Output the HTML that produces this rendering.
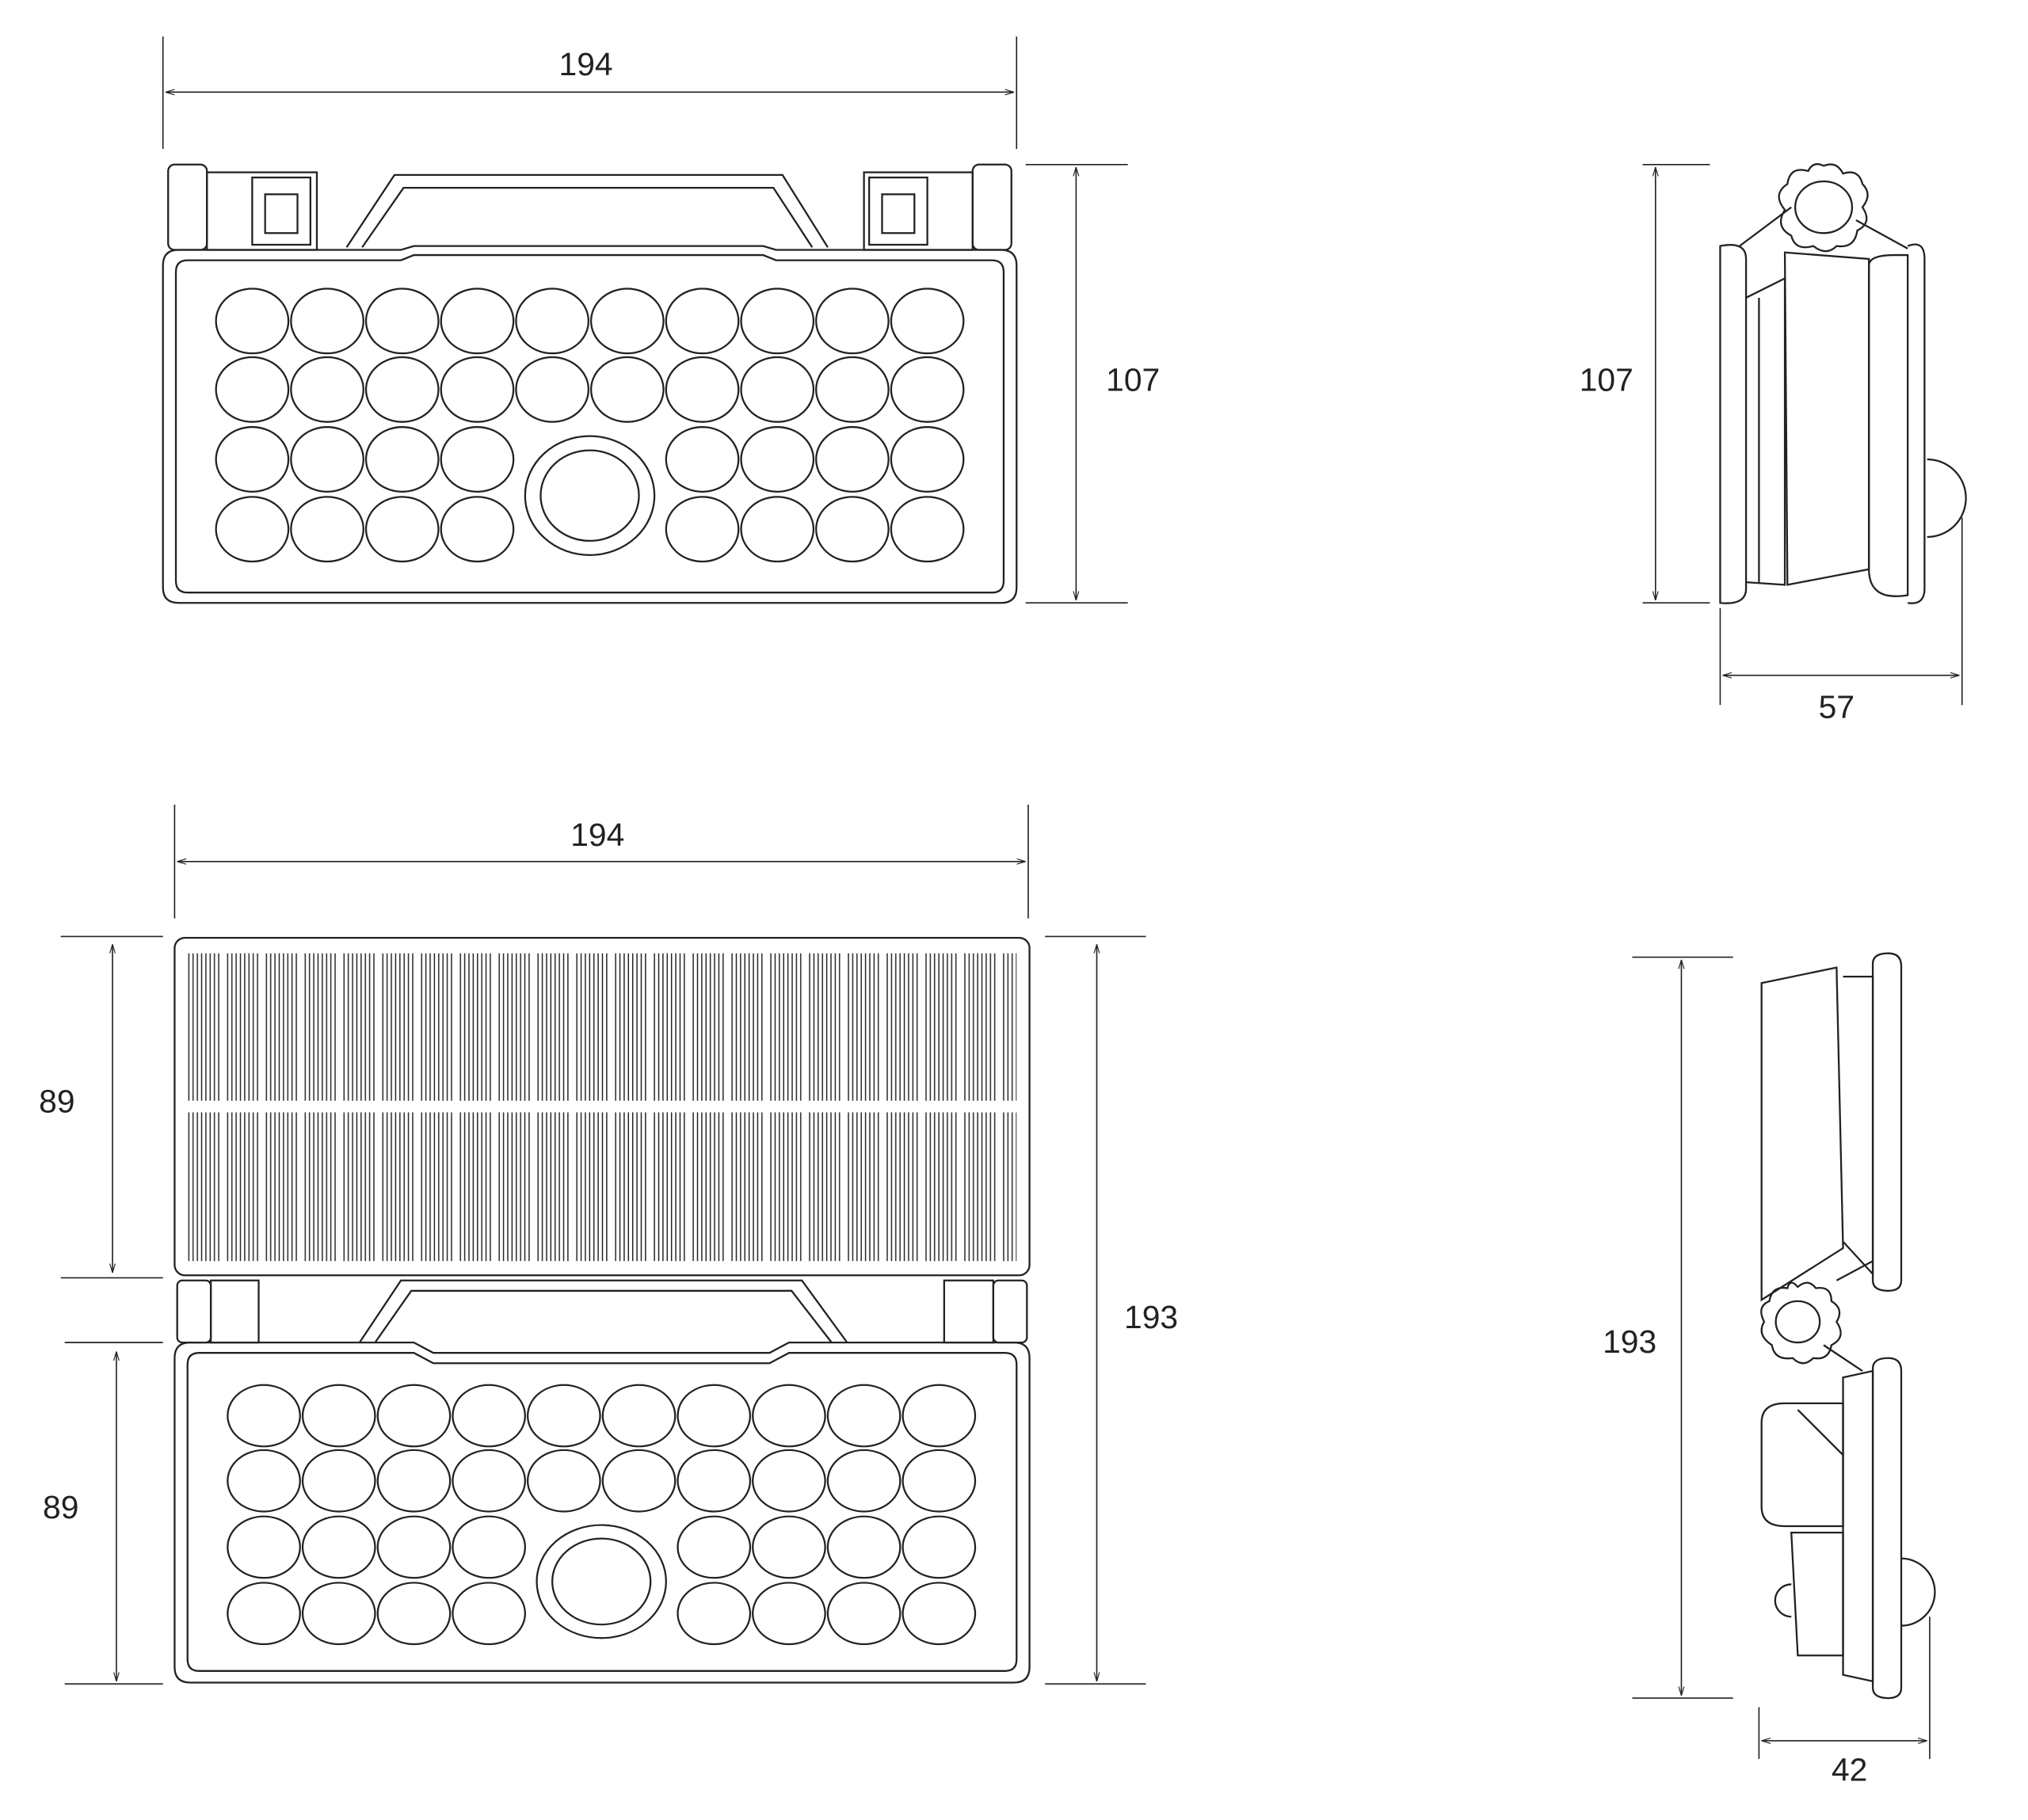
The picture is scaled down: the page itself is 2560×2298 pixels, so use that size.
<!DOCTYPE html>
<html><head><meta charset="utf-8"><style>
html,body{margin:0;padding:0;background:#fff;}
svg{display:block;}
text{font-family:"Liberation Sans",sans-serif;font-size:25px;fill:#222;text-anchor:middle;}
</style></head><body>
<svg width="2560" height="2298" viewBox="0 0 1568 1407" xmlns="http://www.w3.org/2000/svg">
<defs>
<marker id="a" viewBox="0 0 10 10" refX="10" refY="5" markerWidth="7" markerHeight="7" orient="auto-start-reverse"><path d="M0,2 L10,5 L0,8" fill="none" stroke="#222" stroke-width="1"/></marker>
<pattern id="st" width="30" height="10" patternUnits="userSpaceOnUse" x="145">
<g stroke="#222" stroke-width="0.9">
<line x1="1" y1="0" x2="1" y2="10"/><line x1="4.3" y1="0" x2="4.3" y2="10"/><line x1="7.6" y1="0" x2="7.6" y2="10"/><line x1="10.9" y1="0" x2="10.9" y2="10"/><line x1="14.2" y1="0" x2="14.2" y2="10"/><line x1="17.5" y1="0" x2="17.5" y2="10"/><line x1="20.8" y1="0" x2="20.8" y2="10"/><line x1="24.1" y1="0" x2="24.1" y2="10"/>
</g></pattern>
</defs>
<g fill="none" stroke="#222" stroke-width="1.4">
<!-- TOP FRONT -->
<line x1="126" y1="28" x2="126" y2="115" stroke-width="1"/><line x1="786" y1="28" x2="786" y2="115" stroke-width="1"/>
<line x1="128" y1="71" x2="784" y2="71" stroke-width="1" marker-start="url(#a)" marker-end="url(#a)"/>
<path d="M268,191 L305,135 L605,135 L640,191"/>
<path d="M280,191 L312,145 L598,145 L628,191"/>
<rect x="130" y="127" width="30" height="66" rx="5"/><rect x="160" y="133" width="85" height="60"/><rect x="195" y="137" width="45" height="52"/><rect x="205" y="150" width="25" height="30"/>
<rect x="752" y="127" width="30" height="66" rx="5"/><rect x="668" y="133" width="84" height="60"/><rect x="672" y="137" width="45" height="52"/><rect x="682" y="150" width="25" height="30"/>
<path d="M138,193 L310,193 L320,190 L590,190 L600,193 L774,193 Q786,193 786,205 L786,454 Q786,466 774,466 L138,466 Q126,466 126,454 L126,205 Q126,193 138,193 Z"/>
<path d="M145,201 L310,201 L320,197 L590,197 L600,201 L767,201 Q776,201 776,210 L776,449 Q776,458 767,458 L145,458 Q136,458 136,449 L136,210 Q136,201 145,201 Z"/>
<g id="c1">
<ellipse cx="195" cy="248" rx="28" ry="25"/><ellipse cx="253" cy="248" rx="28" ry="25"/><ellipse cx="311" cy="248" rx="28" ry="25"/><ellipse cx="369" cy="248" rx="28" ry="25"/><ellipse cx="427" cy="248" rx="28" ry="25"/><ellipse cx="485" cy="248" rx="28" ry="25"/><ellipse cx="543" cy="248" rx="28" ry="25"/><ellipse cx="601" cy="248" rx="28" ry="25"/><ellipse cx="659" cy="248" rx="28" ry="25"/><ellipse cx="717" cy="248" rx="28" ry="25"/>
<ellipse cx="195" cy="301" rx="28" ry="25"/><ellipse cx="253" cy="301" rx="28" ry="25"/><ellipse cx="311" cy="301" rx="28" ry="25"/><ellipse cx="369" cy="301" rx="28" ry="25"/><ellipse cx="427" cy="301" rx="28" ry="25"/><ellipse cx="485" cy="301" rx="28" ry="25"/><ellipse cx="543" cy="301" rx="28" ry="25"/><ellipse cx="601" cy="301" rx="28" ry="25"/><ellipse cx="659" cy="301" rx="28" ry="25"/><ellipse cx="717" cy="301" rx="28" ry="25"/>
<ellipse cx="195" cy="355" rx="28" ry="25"/><ellipse cx="253" cy="355" rx="28" ry="25"/><ellipse cx="311" cy="355" rx="28" ry="25"/><ellipse cx="369" cy="355" rx="28" ry="25"/><ellipse cx="543" cy="355" rx="28" ry="25"/><ellipse cx="601" cy="355" rx="28" ry="25"/><ellipse cx="659" cy="355" rx="28" ry="25"/><ellipse cx="717" cy="355" rx="28" ry="25"/>
<ellipse cx="195" cy="409" rx="28" ry="25"/><ellipse cx="253" cy="409" rx="28" ry="25"/><ellipse cx="311" cy="409" rx="28" ry="25"/><ellipse cx="369" cy="409" rx="28" ry="25"/><ellipse cx="543" cy="409" rx="28" ry="25"/><ellipse cx="601" cy="409" rx="28" ry="25"/><ellipse cx="659" cy="409" rx="28" ry="25"/><ellipse cx="717" cy="409" rx="28" ry="25"/>
<ellipse cx="456" cy="383" rx="50" ry="46"/><ellipse cx="456" cy="383" rx="38" ry="35"/>
</g>
<line x1="793" y1="127" x2="872" y2="127" stroke-width="1"/><line x1="793" y1="466" x2="872" y2="466" stroke-width="1"/>
<line x1="832" y1="129" x2="832" y2="464" stroke-width="1" marker-start="url(#a)" marker-end="url(#a)"/>

<!-- TOP SIDE -->
<line x1="1270" y1="127" x2="1322" y2="127" stroke-width="1"/><line x1="1270" y1="466" x2="1322" y2="466" stroke-width="1"/>
<line x1="1280" y1="129" x2="1280" y2="464" stroke-width="1" marker-start="url(#a)" marker-end="url(#a)"/>
<path d="M1330,190 Q1350,186 1350,200 L1350,455 Q1350,468 1330,466 Z"/>
<path d="M1350,230 L1380,215 L1380,452 L1350,450"/><line x1="1360" y1="230" x2="1360" y2="450"/>
<path d="M1380,195 L1445,200 L1445,440 L1382,452 Z"/>
<path d="M1445,205 Q1445,197 1465,197 L1475,197 L1475,460 Q1445,465 1445,440 Z"/>
<path d="M1475,190 Q1488,185 1488,200 L1488,455 Q1488,468 1475,466"/>
<path d="M1490,355 A30,30 0 0 1 1490,415"/>
<line x1="1345" y1="190" x2="1385" y2="160"/><line x1="1435" y1="170" x2="1475" y2="192"/>
<path d="M1410,128 Q1420,124 1425,134 Q1437,130 1440,142 Q1448,150 1440,160 Q1448,172 1436,178 Q1434,192 1420,190 Q1412,198 1402,190 Q1388,194 1385,182 Q1372,175 1380,162 Q1370,150 1382,142 Q1384,128 1398,132 Q1402,124 1410,128 Z"/>
<ellipse cx="1410" cy="160" rx="22" ry="20"/>
<line x1="1330" y1="470" x2="1330" y2="545" stroke-width="1"/><line x1="1517" y1="400" x2="1517" y2="545" stroke-width="1"/>
<line x1="1332" y1="522" x2="1515" y2="522" stroke-width="1" marker-start="url(#a)" marker-end="url(#a)"/>

<!-- BOTTOM FRONT -->
<line x1="135" y1="622" x2="135" y2="710" stroke-width="1"/><line x1="795" y1="622" x2="795" y2="710" stroke-width="1"/>
<line x1="137" y1="666" x2="793" y2="666" stroke-width="1" marker-start="url(#a)" marker-end="url(#a)"/>
<rect x="135" y="725" width="661" height="261" rx="8"/>
<rect x="145" y="737" width="641" height="114" fill="url(#st)" stroke="none"/>
<rect x="145" y="860" width="641" height="115" fill="url(#st)" stroke="none"/>
<rect x="137" y="990" width="26" height="48" rx="4"/><rect x="163" y="990" width="37" height="48"/>
<rect x="768" y="990" width="26" height="48" rx="4"/><rect x="730" y="990" width="38" height="48"/>
<path d="M278,1038 L310,990 L620,990 L655,1038"/><path d="M290,1038 L318,998 L612,998 L643,1038"/>
<path d="M147,1038 L320,1038 L335,1046 L595,1046 L610,1038 L784,1038 Q796,1038 796,1050 L796,1289 Q796,1301 784,1301 L147,1301 Q135,1301 135,1289 L135,1050 Q135,1038 147,1038 Z"/>
<path d="M154,1046 L320,1046 L335,1054 L595,1054 L610,1046 L777,1046 Q786,1046 786,1055 L786,1283 Q786,1292 777,1292 L154,1292 Q145,1292 145,1283 L145,1055 Q145,1046 154,1046 Z"/>
<use href="#c1" transform="translate(9,859) scale(1,0.95)"/>
<line x1="47" y1="724" x2="126" y2="724" stroke-width="1"/><line x1="47" y1="988" x2="126" y2="988" stroke-width="1"/>
<line x1="87" y1="730" x2="87" y2="984" stroke-width="1" marker-start="url(#a)" marker-end="url(#a)"/>
<line x1="50" y1="1038" x2="126" y2="1038" stroke-width="1"/><line x1="50" y1="1302" x2="126" y2="1302" stroke-width="1"/>
<line x1="90" y1="1045" x2="90" y2="1300" stroke-width="1" marker-start="url(#a)" marker-end="url(#a)"/>
<line x1="808" y1="724" x2="886" y2="724" stroke-width="1"/><line x1="808" y1="1302" x2="886" y2="1302" stroke-width="1"/>
<line x1="848" y1="730" x2="848" y2="1300" stroke-width="1" marker-start="url(#a)" marker-end="url(#a)"/>

<!-- BOTTOM SIDE -->
<line x1="1262" y1="740" x2="1340" y2="740" stroke-width="1"/><line x1="1262" y1="1313" x2="1340" y2="1313" stroke-width="1"/>
<line x1="1300" y1="742" x2="1300" y2="1311" stroke-width="1" marker-start="url(#a)" marker-end="url(#a)"/>
<path d="M1362,760 L1420,748 L1425,965 L1362,1005 Z"/>
<path d="M1425,755 L1448,755 L1448,985 L1425,960"/>
<path d="M1448,745 Q1448,737 1460,737 Q1470,737 1470,747 L1470,990 Q1470,998 1460,998 Q1448,998 1448,990 Z"/>
<path d="M1390,995 Q1398,988 1404,996 Q1416,994 1416,1006 Q1426,1012 1420,1022 Q1428,1034 1416,1040 Q1414,1052 1402,1050 Q1394,1058 1386,1050 Q1372,1052 1370,1040 Q1358,1032 1364,1022 Q1358,1010 1368,1006 Q1370,994 1382,996 Q1384,988 1390,995 Z"/>
<ellipse cx="1390" cy="1022" rx="17" ry="16"/>
<line x1="1410" y1="1040" x2="1440" y2="1060"/><line x1="1420" y1="990" x2="1448" y2="975"/>
<path d="M1362,1100 Q1362,1085 1380,1085 L1425,1085 L1425,1180 L1380,1180 Q1362,1180 1362,1165 Z"/>
<line x1="1390" y1="1090" x2="1425" y2="1125"/>
<path d="M1448,1058 Q1448,1050 1460,1050 Q1470,1050 1470,1060 L1470,1305 Q1470,1313 1460,1313 Q1448,1313 1448,1305 Z"/>
<path d="M1425,1065 L1448,1060 L1448,1300 L1425,1295 Z"/>
<path d="M1470,1205 A26,26 0 0 1 1470,1257"/>
<path d="M1385,1185 L1425,1185 L1425,1280 L1390,1280 Z"/>
<path d="M1385,1225 A12,12 0 0 0 1385,1250"/>
<line x1="1360" y1="1320" x2="1360" y2="1360" stroke-width="1"/><line x1="1492" y1="1250" x2="1492" y2="1360" stroke-width="1"/>
<line x1="1362" y1="1346" x2="1490" y2="1346" stroke-width="1" marker-start="url(#a)" marker-end="url(#a)"/>
</g>
<text x="453" y="58">194</text>
<text x="876" y="302">107</text>
<text x="1242" y="302">107</text>
<text x="1420" y="555">57</text>
<text x="462" y="654">194</text>
<text x="44" y="860">89</text>
<text x="47" y="1174">89</text>
<text x="890" y="1027">193</text>
<text x="1260" y="1046">193</text>
<text x="1430" y="1377">42</text>
</svg>
</body></html>
